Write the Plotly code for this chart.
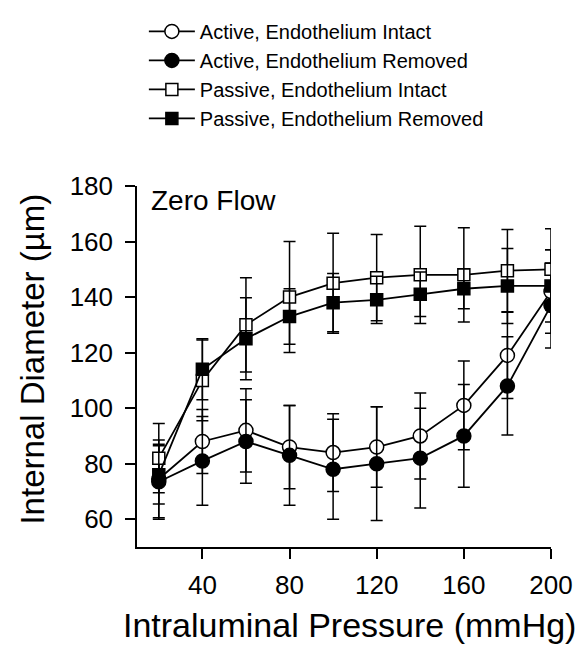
import plotly.graph_objects as go

# ---- data ----
pressure = [20, 40, 60, 80, 100, 120, 140, 160, 180, 200]

active_intact = [74.5, 88, 92, 86, 84, 86, 90, 101, 119, 142]
active_intact_err = [14, 11.5, 15, 15, 14, 14.5, 15.5, 16, 15.5, 15]

active_removed = [73.5, 81, 88, 83, 78, 80, 82, 90, 108, 137]
active_removed_err = [13.5, 16, 15, 18, 18, 20.5, 18, 18.5, 17.7, 15.3]

passive_intact = [82, 110, 130, 140, 145, 147, 148, 148, 149.5, 150]
passive_intact_err = [12.5, 14.5, 17, 20, 18, 15.5, 17.5, 17, 14.8, 14.6]

passive_removed = [76, 114, 125, 133, 138, 139, 141, 143, 144, 144]
passive_removed_err = [10.5, 11, 14.8, 10, 10.5, 8.5, 8, 7.2, 13.5, 13]

x_ticks = [40, 80, 120, 160, 200]
y_ticks = [60, 80, 100, 120, 140, 160, 180]

FONT = "Liberation Sans, Arial, sans-serif"

series = [
    ("Active, Endothelium Intact", active_intact, active_intact_err, "circle-open", 14),
    ("Active, Endothelium Removed", active_removed, active_removed_err, "circle", 14),
    ("Passive, Endothelium Intact", passive_intact, passive_intact_err, "square-open", 12),
    ("Passive, Endothelium Removed", passive_removed, passive_removed_err, "square", 12),
]

fig = go.Figure()
for name, vals, errs, sym, size in series:
    openm = sym.endswith("open")
    fig.add_trace(go.Scatter(
        x=pressure, y=vals, name=name, mode="lines+markers",
        line=dict(color="black", width=1.8),
        marker=dict(symbol="circle" if sym.startswith("circle") else "square",
                    size=size,
                    color="white" if openm else "black",
                    line=dict(color="black", width=1.5)),
        error_y=dict(type="data", array=errs, visible=True,
                     color="black", thickness=1.5, width=6),
    ))

fig.add_annotation(text="Zero Flow", xref="paper", yref="paper",
                   x=0.028, y=0.959, xanchor="left", yanchor="middle",
                   showarrow=False, font=dict(family=FONT, size=28, color="black"))

# axis titles (placed as annotations for exact positioning)
fig.add_annotation(text="Internal Diameter (µm)", xref="paper", yref="paper",
                   x=-0.2526, y=0.5204, xanchor="center", yanchor="middle",
                   textangle=-90, showarrow=False, borderpad=0,
                   font=dict(family=FONT, size=33, color="black"))
fig.add_annotation(text="Intraluminal Pressure (mmHg)", xref="paper", yref="paper",
                   x=0.513, y=-0.2153, xanchor="center", yanchor="middle",
                   showarrow=False, borderpad=0,
                   font=dict(family=FONT, size=34, color="black"))

fig.update_layout(
    width=585, height=648,
    margin=dict(l=137, r=26, t=179, b=101),
    paper_bgcolor="white", plot_bgcolor="white",
    font=dict(family=FONT, color="black"),
    showlegend=True,
    legend=dict(x=0.0166, y=1.4823, xanchor="left", yanchor="top",
                font=dict(family=FONT, size=20, color="black"),
                itemwidth=46, bgcolor="rgba(0,0,0,0)"),
    xaxis=dict(range=[10, 200], tickvals=x_ticks, ticks="outside", ticklen=10,
               tickwidth=1.5, tickcolor="black", showline=True, linecolor="black",
               linewidth=1.5, showgrid=False, zeroline=False,
               ticklabelstandoff=4,
               tickfont=dict(family=FONT, size=26, color="black")),
    yaxis=dict(range=[50, 180], tickvals=y_ticks, ticks="outside", ticklen=10,
               tickwidth=1.5, tickcolor="black", showline=True, linecolor="black",
               linewidth=1.5, showgrid=False, zeroline=False,
               ticklabelstandoff=7,
               tickfont=dict(family=FONT, size=26, color="black")),
)

# remove the default 8px page margin so the figure sits at the window origin
fig.write_html("out.html", config={"displayModeBar": False},
               post_script="document.body.style.margin='0';")
